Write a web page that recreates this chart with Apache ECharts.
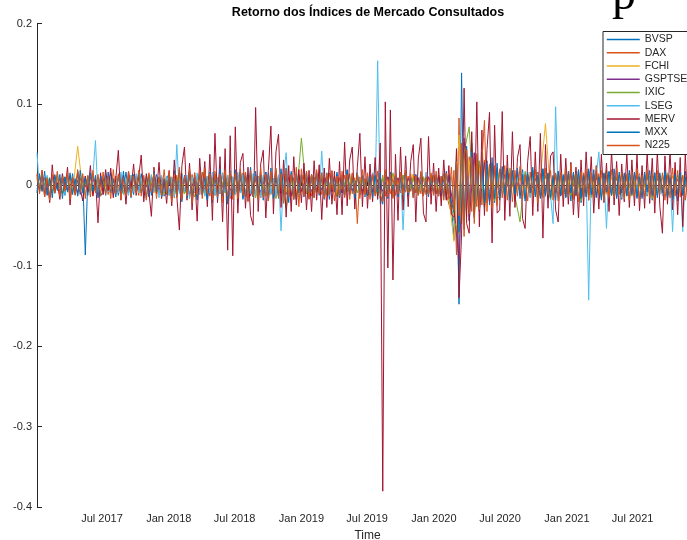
<!DOCTYPE html>
<html>
<head>
<meta charset="utf-8">
<title>Retorno dos Índices de Mercado Consultados</title>
<script src="https://cdn.jsdelivr.net/npm/echarts@6/dist/echarts.min.js"></script>
<style>
  html, body { margin: 0; padding: 0; background: #fff; }
  #chart { width: 687px; height: 540px; }
</style>
</head>
<body>
<div id="chart"></div>
<script>
// returns, in thousandths (0.001)
// weekly samples from 2017-01-03 to 2021-12-28, one line = half a year
const bvsp = [
  9,-6,13,-11,7,-15,10,-4,12,-9,5,-13,8,-7,14,-10,6,-12,9,-87,11,-8,13,-6,10,-14,
  -8,12,-5,15,-11,7,-13,9,-6,16,-10,4,-12,11,-7,14,-9,6,-15,10,-5,13,-11,8,-14,7,
  15,-10,18,-14,9,-21,12,-8,17,-13,6,-19,14,-11,20,-16,8,-22,13,-9,18,-15,11,-24,16,-12,
  19,-13,10,-18,15,-9,22,-14,12,-17,8,-11,16,-20,13,-7,18,-12,9,-15,21,-10,14,-18,11,-8,
  13,-9,17,-12,8,-16,11,-7,15,-13,10,-18,12,-8,16,-11,7,-14,19,-10,13,-9,15,-12,8,-15,
  11,-8,14,-10,7,-13,-24,18,-16,12,-15,9,-11,13,-8,10,-14,7,-9,12,-10,6,-13,11,-7,9,
  8,-11,10,-14,9,-18,12,-22,-68,31,-148,139,-55,48,-44,52,-39,37,-33,41,-28,30,-25,34,-22,27,
  -19,23,-16,21,-14,18,-20,15,-12,19,-17,13,-15,22,-11,16,-13,20,-10,14,-18,12,-9,17,-14,11,
  -16,13,-20,15,-12,18,-22,10,-14,17,-11,19,-15,9,-17,14,-10,16,-13,20,-9,12,-18,11,-14,15,
  -10,13,-17,9,-12,16,-14,11,-19,8,-13,15,-11,18,-16,10,-12,14,-20,12,-9,17,-13,10,-15,11,-8
];
const dax = [
  -8,11,-6,9,-12,7,-10,13,-5,8,-11,10,-7,12,-9,6,-13,9,-8,11,-6,10,-12,8,-7,9,
  -10,7,-12,9,-6,11,-8,13,-10,6,-9,12,-7,10,-13,8,-11,9,-6,12,-8,7,-10,11,-9,6,
  -13,10,-16,12,-9,14,-11,8,-15,13,-10,9,-12,16,-8,11,-14,10,-13,9,-11,15,-9,12,-17,10,
  -11,13,-9,15,-12,10,-14,8,-13,11,-16,9,-10,14,-12,8,-15,11,-9,13,-12,10,-14,9,-18,12,
  -9,12,-11,8,-14,10,-8,13,-12,9,-10,15,-7,11,-13,9,-10,12,-8,14,-11,9,-48,10,-12,8,
  -10,13,-8,11,-9,-17,12,-14,10,-11,9,-13,8,-10,12,-9,11,-8,13,-10,7,-11,9,-12,10,-8,
  9,-11,12,-8,13,-10,-24,-35,18,-87,83,-48,52,-40,35,-33,39,-27,29,-25,31,-22,26,-19,24,-17,
  -14,16,-11,13,-15,10,-12,17,-13,9,-16,12,-10,14,-11,15,-13,10,-9,12,-14,11,-10,13,-12,9,
  -11,13,-9,12,-14,10,-12,15,-8,11,-13,9,-10,14,-12,8,-11,13,-9,10,-15,12,-8,11,-13,10,
  -9,12,-11,14,-10,8,-13,11,-9,15,-12,10,-8,13,-14,9,-11,12,-10,8,-13,11,-9,14,-12,10,-9
];
// biweekly samples, same period
const fchi = [
  6,-8,10,-5,9,-7,11,-9,48,-6,8,-10,7,
  -9,7,-11,8,-6,10,-8,12,-7,9,-10,6,-12,
  10,-13,8,-11,12,-9,14,-10,7,-12,11,-8,13,
  -10,12,-14,9,-11,13,-8,10,-15,11,-9,12,-13,
  8,-10,12,-9,11,-13,7,-11,10,-8,12,-10,9,
  -11,8,-13,10,-9,12,-10,7,-11,13,-8,10,-12,
  9,-12,11,-15,-70,62,-38,30,-27,22,-19,17,-14,
  13,-10,15,-12,9,-14,11,-13,10,76,-12,14,-9,
  -11,13,-9,12,-14,10,-8,11,-12,9,-10,13,-8,
  10,-12,9,-11,13,-8,10,-13,11,-9,12,-10,8,-11
];
const gsptse = [
  -5,7,-6,9,-4,8,-7,5,-9,6,-8,7,-5,
  8,-6,5,-9,7,-5,10,-7,6,-8,9,-6,7,
  -9,11,-7,8,-12,9,-6,10,-8,7,-11,9,-7,
  10,-8,11,-13,7,-9,12,-10,8,-11,9,-14,10,
  -7,9,-8,10,-6,11,-9,7,-10,8,-7,9,-8,
  7,-9,6,-8,10,-7,9,-11,8,-6,9,-7,10,
  -8,10,-9,7,-30,-92,58,-45,40,-32,28,-21,18,
  -15,13,-11,12,-9,14,-10,8,-12,11,-9,10,-13,
  9,-11,12,-8,10,-13,9,-7,11,-10,8,-12,9,
  -9,11,-8,10,-12,8,-10,13,-9,7,-11,9,-8,10
];
const ixic = [
  8,-6,10,-9,7,-11,6,-8,12,-7,9,-10,5,
  -8,11,-7,9,-12,8,-6,10,-9,13,-7,8,-11,
  12,-9,14,-11,8,-15,10,-13,16,-9,12,-10,14,
  -12,15,-10,13,-16,11,-14,9,-17,12,-30,14,-18,
  58,-11,13,-9,14,-12,10,-15,11,-8,13,-10,12,
  -14,11,-13,9,-12,15,-10,12,-11,8,-13,10,-9,
  12,-10,14,-16,-45,-60,40,72,-38,30,-28,25,-20,
  18,-15,21,-14,-46,17,-13,19,-16,12,-18,14,-11,
  15,-13,17,-20,12,-16,14,-11,18,-13,10,-15,12,
  -14,16,-12,13,-17,11,-10,15,-13,12,-11,14,-9,12
];
const lseg = [
  40,-10,14,-8,12,-15,9,-11,16,-7,13,-12,8,-14,10,-9,15,-6,11,-13,9,-10,12,55,-16,10,
  -12,15,-9,11,-14,8,-10,16,-11,7,-13,12,-8,14,-10,9,-15,11,-7,13,-9,10,-16,12,-8,11,
  -13,9,-15,50,-11,14,-9,12,-17,10,-8,15,-12,9,-14,11,-10,16,-13,8,-11,14,-9,12,-15,10,
  -12,16,-10,13,-15,9,-11,14,-13,10,-16,12,-9,15,-11,8,-14,13,-57,11,40,-12,14,-10,13,-15,
  11,-13,9,-15,12,-10,14,-11,42,-12,10,-14,13,-9,11,-16,12,-10,15,-13,9,-11,14,-12,10,-14,
  12,-10,15,-13,154,-24,-18,15,-16,12,-14,10,-13,11,-56,14,-12,9,-15,13,-10,12,-11,16,-9,13,
  -12,10,-14,11,-9,15,-13,10,-22,18,-30,26,-35,29,-24,21,-19,23,-17,15,-20,18,-14,16,-12,14,
  -15,12,-10,16,-13,11,-14,9,-12,15,-11,13,-16,10,-12,14,-10,12,-15,11,-13,-48,97,-17,14,-11,
  13,-10,15,-12,11,-14,9,-13,16,-143,11,-15,12,41,-10,13,-54,15,-11,12,-14,9,-16,13,-10,12,
  -11,14,-9,12,-15,10,-13,11,-8,15,-12,9,-14,13,-10,12,-58,11,-13,14,-58,12,-9,15,-11,10,-13
];
const merv = [
  12,-8,18,-15,6,-22,25,-10,3,-18,14,-6,22,-25,9,-12,17,-4,-20,11,-9,24,-14,7,-47,15,
  -12,19,-7,21,-16,8,43,-19,12,-24,17,-5,26,-13,9,37,-21,14,-8,-39,22,-11,28,-17,6,-23,
  18,-26,31,-14,-56,24,47,-19,27,-31,15,-45,33,-12,29,-27,38,-44,64,-22,35,-46,45,-81,61,-88,
  72,-35,28,39,-29,22,-38,-50,96,-33,26,43,-41,18,73,-36,41,63,-28,31,-40,24,-33,35,-25,19,
  -22,27,-31,18,-33,30,-19,25,-43,21,-28,33,-24,17,-37,29,-37,53,-26,31,47,-30,22,64,-27,35,
  -29,26,-21,34,-18,52,-380,103,-103,93,-118,38,-44,47,-31,36,-27,29,50,-46,33,58,-35,-46,60,-24,
  27,-33,21,-26,31,-19,24,-37,-40,45,-140,-62,120,-48,-60,66,-41,103,-52,68,-38,44,90,-72,74,-35,
  -31,91,-44,37,-39,66,-28,34,50,-42,-54,29,60,-38,41,-33,64,-66,50,-29,36,41,-31,-46,38,-27,
  33,-24,28,-37,22,-41,31,-26,41,-19,35,-35,24,-30,38,-22,27,-33,43,-25,29,-38,26,-21,39,-28,
  31,-26,37,-32,24,-29,40,-23,33,-35,41,-27,-60,36,-24,42,-31,28,-37,34,-52,39,-28,31,-40,26,-33
];
const mxx = [
  -10,14,-8,17,-13,9,-16,12,-7,13,-17,10,-9,15,-12,8,-14,18,-10,9,-13,15,-8,12,-16,10,
  9,-13,16,-10,8,-15,12,-9,17,-12,7,-16,13,-8,15,-10,9,-17,12,-13,16,-9,10,-15,8,-12,
  13,-17,10,-15,19,-12,9,-16,15,-20,12,-10,17,-13,8,-19,16,-12,13,-17,20,-15,10,-21,17,-13,
  15,-12,18,-16,10,-20,13,-15,17,-10,12,-19,16,-13,21,-17,9,-15,20,-12,13,-22,17,-16,15,-10,
  12,-15,9,-17,13,-10,16,-13,8,-18,15,-12,17,-9,13,-16,10,-15,18,-12,9,-17,15,-13,12,-10,
  -13,10,-16,12,-9,15,-18,13,-17,16,-10,12,-15,9,-13,17,-12,10,-16,13,-9,15,-12,8,-15,10,
  -9,13,-12,10,-15,17,-13,-21,-34,30,-58,52,-44,39,-35,41,-30,33,-25,28,-22,25,-19,27,-17,21,
  -16,20,-13,17,-19,15,-12,21,-17,13,-20,16,-10,18,-15,12,-17,20,-13,15,-16,10,-19,17,-12,13,
  -15,17,-10,16,-13,19,-17,12,-15,20,-12,13,-16,10,-19,15,-9,17,-13,12,-17,16,-10,15,-13,18,
  -12,16,-15,10,-17,13,-9,18,-13,15,-16,12,-10,17,-15,9,-18,13,-12,16,-13,10,-17,15,-12,13,-16
];
const n225 = [
  14,-11,18,-15,9,-19,13,-10,17,-14,11,-8,16,-18,10,-13,19,-9,14,-17,12,-15,18,-10,13,-14,
  16,-12,10,-17,19,-11,14,-18,9,-13,17,-15,11,-10,18,-14,12,-19,15,-9,14,-17,10,-13,19,-11,
  17,-21,13,-16,22,-18,11,-14,20,-23,15,-12,18,-17,21,-11,14,-19,17,-15,13,-22,18,-14,16,-18,
  14,-17,20,-13,16,-21,18,-14,11,-18,22,-16,13,-20,17,-11,21,-17,14,-23,20,-15,13,-18,22,-27,
  20,-14,17,-18,13,-16,19,-11,15,-17,14,-13,18,-20,11,-14,17,-16,13,-18,15,-11,14,-17,19,-13,
  15,-18,13,-14,17,-11,-21,19,-15,13,-17,14,-11,16,-13,18,-10,14,-16,11,-13,17,-14,10,-12,15,
  -13,17,-14,11,-19,15,-18,22,-32,29,-38,52,-64,44,-36,34,-48,39,-31,29,80,-33,26,-29,23,-26,
  20,-16,24,-19,15,-21,18,-14,23,-17,12,-20,16,-15,19,-23,14,-16,21,-12,18,-19,15,-20,16,-14,
  19,-15,25,-18,14,-21,16,-12,20,-19,15,-16,23,-13,18,-20,12,-15,19,-16,21,-12,15,-18,14,-19,
  16,-14,20,-18,12,-15,19,-16,14,-20,18,-12,15,-19,11,-16,21,-14,18,-15,12,-19,16,-11,14,-17,15
];

const seriesNames = ['BVSP', 'DAX', 'FCHI', 'GSPTSE', 'IXIC', 'LSEG', 'MERV', 'MXX', 'N225'];
const seriesValues = [bvsp, dax, fchi, gsptse, ixic, lseg, merv, mxx, n225];
const tickDates = ['2017-07-01', '2018-01-01', '2018-07-01', '2019-01-01', '2019-07-01',
  '2020-01-01', '2020-07-01', '2021-01-01', '2021-07-01'];
const tickLabels = ['Jul 2017', 'Jan 2018', 'Jul 2018', 'Jan 2019', 'Jul 2019',
  'Jan 2020', 'Jul 2020', 'Jan 2021', 'Jul 2021'];

// MATLAB default line colours
const colors = ['#0072BD', '#D95319', '#EDB120', '#7E2F8E', '#77AC30', '#4DBEEE', '#A2142F', '#0072BD', '#D95319'];
const font = '"Liberation Sans", Arial, Helvetica, sans-serif';
const ink = '#262626';

function localTime(s) {
  const p = s.split('-').map(Number);
  return new Date(p[0], p[1] - 1, p[2]).getTime();
}

const startDate = localTime('2017-01-03');
const endDate = localTime('2021-12-28');
const tickValues = tickDates.map(localTime);

function toPoints(vals) {
  const step = (endDate - startDate) / (vals.length - 1);
  return vals.map((v, k) => [startDate + k * step, v / 1000]);
}

function tickLabel(v) {
  for (let i = 0; i < tickValues.length; i++) {
    if (Math.abs(tickValues[i] - v) < 86400000) return tickLabels[i];
  }
  return '';
}

let myChart = echarts.init(document.getElementById('chart'));

let option = {
  animation: false,
  backgroundColor: '#fff',
  title: {
    text: 'Retorno dos Índices de Mercado Consultados',
    left: 368,
    textAlign: 'center',
    top: 6,
    padding: 0,
    textStyle: { fontFamily: font, fontSize: 12.5, fontWeight: 'bold', color: '#000' }
  },
  legend: {
    orient: 'vertical',
    left: 603,
    top: 31.5,
    padding: [2, 4, 3, 3],
    itemWidth: 33,
    itemHeight: 12,
    itemGap: 1.25,
    backgroundColor: '#fff',
    borderColor: ink,
    borderWidth: 1,
    borderRadius: 0,
    itemStyle: { opacity: 0 },
    textStyle: { fontFamily: font, fontSize: 10.5, color: ink, lineHeight: 12 },
    data: seriesNames.map((name, i) => ({
      name: name,
      lineStyle: { color: colors[i], width: 1.5 }
    }))
  },
  grid: {
    left: 37,
    right: -11,
    top: 23.7,
    bottom: 32.7,
    outerBoundsMode: 'none'
  },
  xAxis: {
    // dates as timestamps on a value axis so the ticks can sit on the month starts
    type: 'value',
    min: startDate,
    max: endDate,
    name: 'Time',
    nameLocation: 'middle',
    nameGap: 22,
    nameTextStyle: { fontFamily: font, fontSize: 12, color: ink },
    axisLine: { lineStyle: { color: ink, width: 1 } },
    axisTick: { show: true, inside: true, length: 5, customValues: tickValues, lineStyle: { color: ink } },
    axisLabel: {
      customValues: tickValues,
      formatter: tickLabel,
      fontFamily: font,
      fontSize: 11,
      color: ink,
      margin: 6
    },
    splitLine: { show: false }
  },
  yAxis: {
    type: 'value',
    min: -0.4,
    max: 0.2,
    interval: 0.1,
    axisLine: { show: true, lineStyle: { color: ink, width: 1 } },
    axisTick: { show: true, inside: true, length: 5, lineStyle: { color: ink } },
    axisLabel: {
      fontFamily: font,
      fontSize: 11,
      color: ink,
      margin: 5,
      formatter: v => String(+v.toFixed(1))
    },
    splitLine: { show: false }
  },
  graphic: [
    {
      // stray serif letter cut off at the top of the original picture
      type: 'text',
      x: 612,
      y: -3.7,
      style: { text: 'p', font: '48px "Liberation Serif", "Times New Roman", serif', fill: '#000', verticalAlign: 'middle' }
    }
  ],
  series: seriesNames.map((name, i) => ({
    name: name,
    type: 'line',
    data: toPoints(seriesValues[i]),
    symbol: 'none',
    showSymbol: false,
    color: colors[i],
    lineStyle: { width: 1, color: colors[i] }
  }))
};

myChart.setOption(option);
</script>
</body>
</html>
